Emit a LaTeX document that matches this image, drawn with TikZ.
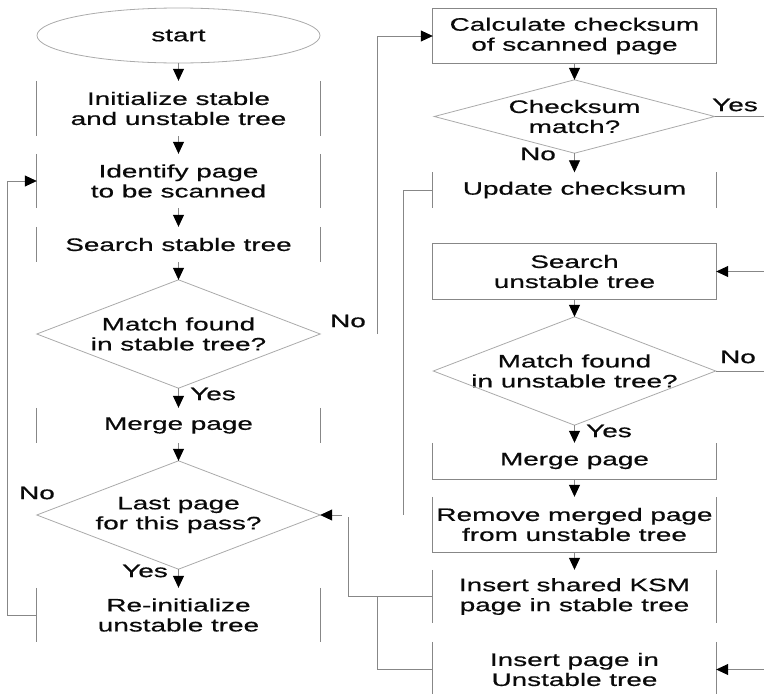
\documentclass[tikz,border=0pt]{standalone}
\usepackage{fontspec}
\setmainfont{Liberation Sans}[FakeStretch=1.55,FakeBold=0.6]
\usetikzlibrary{arrows.meta,calc}
\definecolor{edgegray}{RGB}{135,135,135}
\definecolor{diagray}{RGB}{170,170,170}
\definecolor{ink}{RGB}{10,10,10}
\tikzset{
  box/.style={rectangle, inner sep=0pt, align=center, text=ink,
    font=\fontsize{18}{20}\selectfont, minimum width=283pt},
  lbl/.style={inner sep=0pt, text=ink, font=\fontsize{18}{20}\selectfont},
  edge/.style={draw=edgegray, line width=0.8pt},
  flow/.style={edge, -{Triangle[length=12pt,width=11pt,color=black]}},
  dia/.style={draw=diagray, line width=0.8pt},
}
% vertical side strokes of a step box
\newcommand\sidelines[1]{\draw[edge] (#1.north west) -- (#1.south west) (#1.north east) -- (#1.south east);}
\newcommand\diamondpath[1]{\draw[dia] (#1.north) -- (#1.east) -- (#1.south) -- (#1.west) -- cycle;}
\begin{document}
\begin{tikzpicture}[x=1pt,y=-1pt]
\useasboundingbox (0,0) rectangle (764,694);
\coordinate (R) at (764,0);

% left column
\node[box, minimum height=55pt]  (start)  at (178.5,35.5) {start};
\draw[dia] (start.center) ellipse [x radius=141.5pt, y radius=27.5pt];
\node[box, minimum height=55pt]  (init)   at (178.5,108.5) {Initialize stable\\and unstable tree};
\node[box, minimum height=54pt]  (ident)  at (178.5,181) {Identify page\\to be scanned};
\node[box, minimum height=35pt]  (sstab)  at (178.5,244.5) {Search stable tree};
\node[box, minimum height=108pt] (d1)     at (178.5,334) {Match found\\in stable tree?};
\node[box, minimum height=35pt]  (merge1) at (178.5,425.5) {Merge page};
\node[box, minimum height=108pt] (d2)     at (178.5,515) {Last page\\for this pass?};
\node[box, minimum height=54pt]  (reinit) at (178.5,615) {Re-initialize\\unstable tree};

\sidelines{init}
\sidelines{ident}
\sidelines{sstab}
\sidelines{merge1}
\sidelines{reinit}
\diamondpath{d1}
\diamondpath{d2}

% right column
\node[box, minimum height=55pt] (calc) at (574.5,36) {Calculate checksum\\of scanned page};
\node[box, minimum width=280pt, minimum height=73pt] (d3) at (574.5,116.5) {Checksum\\match?};
\node[box, minimum height=35pt] (upd) at (574.5,190) {Update checksum};
\node[box, minimum height=55pt] (sunst) at (574.5,271.5) {Search\\unstable tree};
\node[box, minimum width=282pt, minimum height=108pt] (d4) at (574.5,371) {Match found\\in unstable tree?};
\node[box, minimum height=36pt] (merge2) at (574.5,461) {Merge page};
\node[box, minimum height=55pt] (remove) at (574.5,524.5) {Remove merged page\\from unstable tree};
\node[box, minimum height=53pt] (ksm) at (574.5,596.5) {Insert shared KSM\\page in stable tree};
\node[box, minimum height=55pt] (ins) at (574.5,669.5) {Insert page in\\Unstable tree};

\draw[edge] (calc.north west) rectangle (calc.south east);
\draw[edge] (sunst.north west) rectangle (sunst.south east);
\draw[edge] (merge2.north west) -- (merge2.south west) -- (merge2.south east) -- (merge2.north east);
\draw[edge] (remove.north west) -- (remove.south west) -- (remove.south east) -- (remove.north east);
\sidelines{upd}
\sidelines{ksm}
\sidelines{ins}
\diamondpath{d3}
\diamondpath{d4}

% main flow
\draw[flow] (start.south) -- (init.north);
\draw[flow] (init.south) -- (ident.north);
\draw[flow] (ident.south) -- (sstab.north);
\draw[flow] (sstab.south) -- (d1.north);
\draw[flow] (d1.south) -- (merge1.north);
\draw[flow] (merge1.south) -- (d2.north);
\draw[flow] (d2.south) -- (reinit.north);

\draw[flow] (calc.south) -- (d3.north);
\draw[flow] (d3.south) -- (upd.north);
\draw[flow] (sunst.south) -- (d4.north);
\draw[flow] (d4.south) -- (merge2.north);
\draw[flow] (merge2.south) -- (remove.north);
\draw[flow] (remove.south) -- (ksm.north);

% loops and branches
\draw[flow] (reinit.west) -- ++(-29,0) |- (ident.west);
\draw[flow] ($(d1.east)+(57,0)$) |- (calc.west);
\draw[edge] (d3.east) -- (d3.east -| R);
\draw[edge] (d4.east) -- (d4.east -| R);
\draw[flow] (sunst.east -| R) -- (sunst.east);
\draw[flow] (ins.east -| R) -- (ins.east);

\coordinate (j1) at (403,515);
\coordinate (j2) at (348,517);
\coordinate (j3) at (377,596.5);
\draw[edge] (upd.west) -| (j1);
\draw[edge] (ksm.west) -| (j2);
\draw[edge] (ins.west) -| (j3);
\draw[flow] ($(d2.east)+(22,0)$) -- (d2.east);

% branch labels
\node[lbl] (no1)  at (348,321) {No};
\node[lbl] (yes1) at (213,394) {Yes};
\node[lbl] (no2)  at (37,493)  {No};
\node[lbl] (yes2) at (145,571) {Yes};
\node[lbl] (yes3) at (735,105) {Yes};
\node[lbl] (no3)  at (538,154) {No};
\node[lbl] (no4)  at (738,357) {No};
\node[lbl] (yes4) at (609,431) {Yes};
\end{tikzpicture}
\end{document}
